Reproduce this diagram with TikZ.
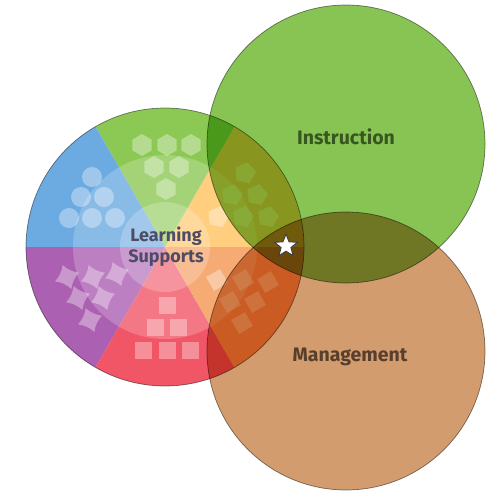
\documentclass[tikz,border=0pt]{standalone}
\usepackage{fontspec}
\setmainfont{Fira Sans}
\usepackage{xcolor}
\definecolor{colorBlue}{RGB}{108,170,226}
\definecolor{colorGreen}{RGB}{140,200,84}
\definecolor{colorYellow}{RGB}{255,196,96}
\definecolor{colorOrange}{RGB}{246,150,82}
\definecolor{colorRed}{RGB}{240,86,102}
\definecolor{colorPurple}{RGB}{172,96,178}
\definecolor{colorInstruction}{RGB}{136,196,84}
\definecolor{colorManagement}{RGB}{210,156,110}
\definecolor{colorInstructionText}{RGB}{56,86,32}
\definecolor{colorManagementText}{RGB}{88,62,44}
\definecolor{colorSupportText}{RGB}{78,76,100}
\usetikzlibrary{shapes.geometric}
\tikzset{
  icon/.style={fill=white, fill opacity=.35},
  rim/.style={draw=black!70, draw opacity=.7, line width=.7pt},
  caption/.style={font=\bfseries\fontsize{19.5}{21}\selectfont, align=center},
  dot/.pic={\fill[icon] (0,0) circle (10);},
  hexa/.pic={\fill[icon] (90:11) -- (150:11) -- (210:11) -- (270:11) -- (330:11) -- (30:11) -- cycle;},
  penta/.pic={\fill[icon, rotate=-12] (90:11) -- (162:11) -- (234:11) -- (306:11) -- (18:11) -- cycle;},
  tile/.pic={\fill[icon] (-8.5,-8.5) rectangle (8.5,8.5);},
  lozenge/.pic={\fill[icon, rotate=30] (-8,-8) rectangle (8,8);},
  pinch/.pic={\fill[icon, rotate=-25] (-9,-9) .. controls (-3,-7) and (3,-7) .. (9,-9) .. controls (7,-3) and (7,3) .. (9,9) .. controls (3,7) and (-3,7) .. (-9,9) .. controls (-7,3) and (-7,-3) .. (-9,-9) -- cycle;}
}

\begin{document}
\begin{tikzpicture}[x=1pt, y=1pt]
\useasboundingbox[fill=white] (0,0) rectangle (500,-493);
\coordinate (ls) at (165,-247);
\coordinate (ins) at (346,-144);
\coordinate (mgt) at (346,-351);
% six sectors of the learning supports wheel
\foreach \a/\c in {0/colorYellow, 60/colorGreen, 120/colorBlue, 180/colorPurple, 240/colorRed, 300/colorOrange}
  \fill[\c] (ls) -- ++(\a:139) arc[start angle=\a, end angle=\a+60, radius=139] -- cycle;
\fill[white, opacity=.2] (ls) circle (92);
\fill[white, opacity=.22] (ls) circle (45);
% icons
\foreach \x/\y in {92/177, 81/197, 104/197, 69/218, 92/218, 115/218}
  \pic at (\x,-\y) {dot};
\foreach \x/\y in {142/145, 167/145, 191/145, 154/167, 179/167, 166/189}
  \pic at (\x,-\y) {hexa};
\foreach \x/\y in {245/173, 232/195, 257/195, 218/217, 243/217, 268/217}
  \pic at (\x,-\y) {penta};
\foreach \x/\y in {217/280, 243/280, 268/282, 230/302, 255/302, 242/323}
  \pic at (\x,-\y) {lozenge};
\foreach \x/\y in {167/305, 155/327, 178/327, 143/350, 167/350, 190/350}
  \pic at (\x,-\y) {tile};
\foreach \x/\y in {67/277, 93/277, 117/274, 78/298, 103/298, 90/320}
  \pic at (\x,-\y) {pinch};
% overlapping circles
\begin{scope}[blend mode=multiply]
\fill[colorInstruction] (ins) circle (139);
\fill[colorManagement] (mgt) circle (139);
\draw[rim] (ls) circle (139);
\draw[rim] (ins) circle (139);
\draw[rim] (mgt) circle (139);
\end{scope}
\node[caption, text=colorSupportText, font=\bfseries\fontsize{18}{21}\selectfont] (support) at (166,-247) {Learning\\Supports};
\node[caption, text=colorInstructionText] (instruction) at (346,-137) {Instruction};
\node[caption, text=colorManagementText] (management) at (350,-357) {Management};
\node[star, star points=5, star point ratio=2.3, fill=white, draw=black!75, line width=1pt, minimum size=24pt, inner sep=0pt] (hub) at (286,-246) {};
\end{tikzpicture}
\end{document}
